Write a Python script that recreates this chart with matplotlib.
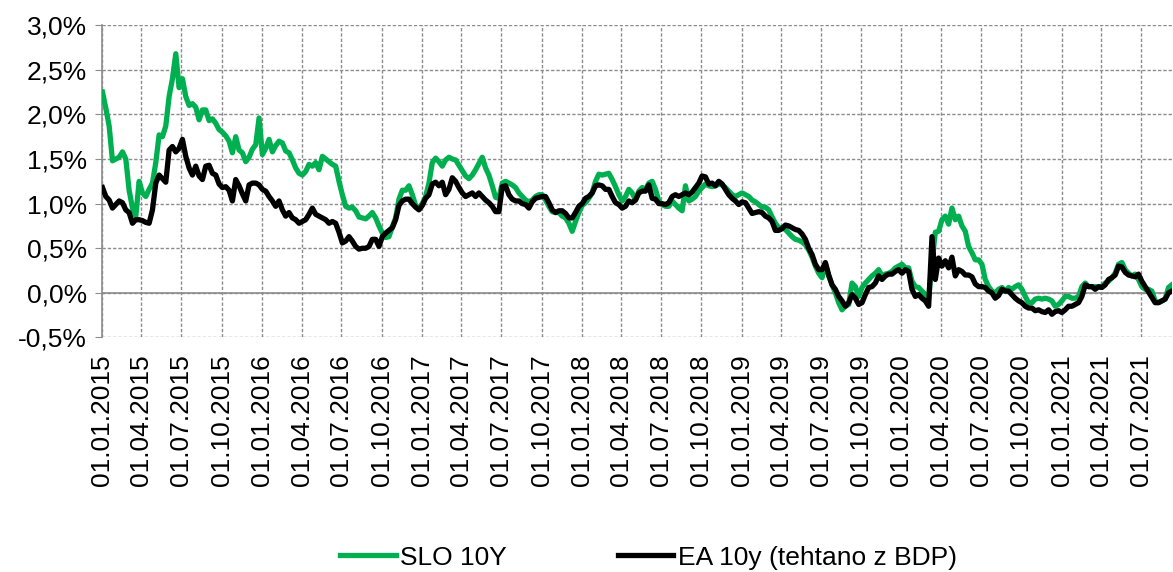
import numpy as np
import matplotlib
matplotlib.use("Agg")
import matplotlib.pyplot as plt
import matplotlib.dates as mdates
from matplotlib.ticker import FuncFormatter, MultipleLocator
import pandas as pd

# sampled roughly weekly from 02.01.2015 to 10.09.2021, values in %
start_date = "2015-01-02"
end_date = "2021-09-10"

slo_10y = [
    2.25, 2.07, 1.87, 1.48, 1.50, 1.52, 1.58, 1.50, 1.15, 0.95,
    0.86, 1.25, 1.12, 1.08, 1.16, 1.23, 1.46, 1.77, 1.75, 1.87,
    2.20, 2.40, 2.68, 2.30, 2.40, 2.20, 2.10, 2.12, 2.08, 1.94,
    2.05, 2.05, 1.93, 1.95, 1.90, 1.83, 1.80, 1.76, 1.70, 1.57,
    1.75, 1.60, 1.57, 1.47, 1.52, 1.61, 1.66, 1.96, 1.55, 1.62,
    1.72, 1.58, 1.65, 1.70, 1.68, 1.59, 1.57, 1.49, 1.40, 1.34,
    1.32, 1.36, 1.44, 1.42, 1.46, 1.38, 1.53, 1.50, 1.47, 1.44,
    1.42, 1.25, 1.10, 0.97,
    0.95, 0.96, 0.92, 0.85, 0.84, 0.83, 0.86, 0.90, 0.84, 0.75,
    0.67, 0.62, 0.63, 0.74, 0.84, 1.05, 1.15, 1.15, 1.20, 1.10,
    0.98, 0.95, 1.00, 1.08, 1.23, 1.46, 1.51, 1.47, 1.42, 1.49,
    1.52, 1.50, 1.49, 1.43, 1.37, 1.31, 1.28, 1.32, 1.38, 1.45,
    1.52, 1.40, 1.32, 1.20, 1.07, 1.06, 1.23, 1.25, 1.23, 1.21,
    1.18, 1.12, 1.08, 1.04, 1.02, 1.04, 1.08, 1.10, 1.10, 1.04,
    0.97, 0.91, 0.90, 0.90, 0.86, 0.84, 0.78, 0.69, 0.80, 0.90,
    0.98, 1.01, 1.06, 1.12, 1.25, 1.33, 1.32, 1.33,
    1.34, 1.27, 1.19, 1.10, 1.03, 1.08, 1.16, 1.12, 1.04, 1.14,
    1.18, 1.16, 1.23, 1.25, 1.16, 1.03, 0.99, 0.97, 0.97, 1.03,
    0.99, 0.95, 0.92, 1.20, 1.03, 1.05, 1.08, 1.14, 1.18, 1.22,
    1.20, 1.19, 1.20, 1.22, 1.21, 1.18, 1.14, 1.10, 1.08, 1.10,
    1.12, 1.10, 1.08, 1.04, 1.02, 0.99, 0.96, 0.96, 0.93, 0.85,
    0.78, 0.73, 0.73, 0.71, 0.67, 0.63, 0.60, 0.59, 0.57, 0.54,
    0.48, 0.40, 0.30, 0.22, 0.17, 0.33, 0.19, 0.09, 0.00, -0.11,
    -0.19, -0.15, -0.13, 0.11, 0.07, -0.04, 0.06, 0.11,
    0.15, 0.19, 0.22, 0.26, 0.19, 0.21, 0.22, 0.24, 0.28, 0.30,
    0.32, 0.28, 0.28, 0.13, 0.07, 0.06, 0.02, -0.02, -0.06, 0.34,
    0.68, 0.69, 0.82, 0.86, 0.77, 0.95, 0.82, 0.86, 0.75, 0.69,
    0.52, 0.45, 0.37, 0.37, 0.32, 0.15, 0.07, 0.02, 0.00, 0.04,
    0.06, 0.02, 0.06, 0.04, 0.07, 0.09, 0.04, -0.04, -0.11, -0.11,
    -0.07, -0.06, -0.07, -0.06, -0.07, -0.09, -0.15, -0.13, -0.09, -0.04,
    -0.04, -0.06, -0.06, -0.04, 0.07, 0.11, 0.07, 0.07, 0.07, 0.06,
    0.07, 0.11, 0.13, 0.17, 0.22, 0.32, 0.34, 0.26, 0.22, 0.19,
    0.21, 0.15, 0.07, 0.04, 0.04, 0.02, -0.09, -0.11, -0.09, -0.07,
    0.06, 0.09,
]

ea_10y = [
    1.18, 1.08, 1.04, 0.95, 0.99, 1.03, 1.01, 0.93, 0.90, 0.78,
    0.82, 0.82, 0.81, 0.79, 0.78, 0.93, 1.23, 1.32, 1.28, 1.24,
    1.60, 1.64, 1.58, 1.62, 1.72, 1.53, 1.40, 1.32, 1.42, 1.31,
    1.27, 1.42, 1.43, 1.34, 1.32, 1.22, 1.18, 1.19, 1.15, 1.03,
    1.27, 1.20, 1.11, 1.03, 1.21, 1.23, 1.23, 1.21, 1.16, 1.14,
    1.08, 1.03, 0.97, 1.03, 0.93, 0.86, 0.90, 0.84, 0.82, 0.78,
    0.80, 0.82, 0.88, 0.95, 0.88, 0.86, 0.84, 0.82, 0.78, 0.80,
    0.78, 0.68, 0.56, 0.58,
    0.63, 0.58, 0.52, 0.49, 0.50, 0.50, 0.52, 0.60, 0.60, 0.52,
    0.63, 0.67, 0.70, 0.73, 0.82, 0.98, 1.03, 1.05, 1.05, 1.00,
    0.96, 0.93, 0.98, 1.06, 1.10, 1.22, 1.24, 1.20, 1.24, 1.10,
    1.16, 1.29, 1.25, 1.18, 1.12, 1.08, 1.10, 1.12, 1.08, 1.12,
    1.08, 1.04, 1.01, 0.97, 0.91, 0.91, 1.19, 1.20, 1.10, 1.05,
    1.03, 1.03, 1.00, 0.99, 0.95, 1.02, 1.06, 1.07, 1.08, 1.08,
    1.01, 0.93, 0.90, 0.92, 0.92, 0.89, 0.84, 0.84, 0.90, 0.97,
    1.00, 1.06, 1.08, 1.12, 1.20, 1.21, 1.20, 1.16,
    1.16, 1.08, 1.01, 0.99, 0.95, 0.97, 1.03, 1.01, 1.04, 1.12,
    1.14, 1.14, 1.21, 1.06, 1.05, 1.00, 1.00, 0.99, 1.01, 1.08,
    1.10, 1.08, 1.10, 1.12, 1.10, 1.13, 1.18, 1.23, 1.31, 1.30,
    1.22, 1.23, 1.20, 1.25, 1.22, 1.16, 1.10, 1.06, 1.03, 0.99,
    1.02, 1.01, 0.95, 0.89, 0.90, 0.91, 0.90, 0.86, 0.84, 0.80,
    0.70, 0.70, 0.72, 0.76, 0.75, 0.73, 0.71, 0.70, 0.66, 0.60,
    0.50, 0.43, 0.32, 0.26, 0.26, 0.34, 0.20, 0.09, 0.04, -0.04,
    -0.09, -0.15, -0.11, -0.02, -0.06, -0.13, -0.11, -0.02,
    0.06, 0.07, 0.11, 0.19, 0.15, 0.19, 0.21, 0.21, 0.24, 0.26,
    0.22, 0.26, 0.24, 0.04, -0.04, -0.02, -0.06, -0.09, -0.15, 0.63,
    0.15, 0.39, 0.30, 0.36, 0.28, 0.40, 0.19, 0.26, 0.24, 0.20,
    0.20, 0.18, 0.10, 0.07, 0.07, 0.06, 0.02, 0.00, -0.06, -0.03,
    0.04, 0.02, 0.02, -0.02, -0.06, -0.09, -0.11, -0.15, -0.17, -0.17,
    -0.20, -0.19, -0.21, -0.22, -0.19, -0.24, -0.21, -0.20, -0.22, -0.19,
    -0.15, -0.15, -0.13, -0.11, -0.04, 0.09, 0.07, 0.07, 0.04, 0.07,
    0.06, 0.09, 0.15, 0.17, 0.20, 0.30, 0.29, 0.23, 0.20, 0.19,
    0.18, 0.21, 0.13, 0.07, 0.01, -0.05, -0.11, -0.11, -0.09, -0.07,
    0.00, 0.02,
]

labels = ["SLO 10Y", "EA 10y (tehtano z BDP)"]

dates = pd.date_range(start_date, end_date, periods=len(slo_10y))

plt.rcParams["font.family"] = ["Liberation Sans", "DejaVu Sans"]
plt.rcParams["font.size"] = 19

fig = plt.figure(figsize=(11.73, 5.72), dpi=100)
ax = fig.add_axes([0.087, 0.41, 0.912, 0.546])

grid_col = "#8c8c8c"
ax.plot(dates, slo_10y, color="#00b050", lw=3.8, label=labels[0], zorder=3)
ax.plot(dates, ea_10y, color="black", lw=3.8, label=labels[1], zorder=4)

ax.set_ylim(-0.5, 3.0)
ax.set_xlim(pd.Timestamp("2015-01-01"), pd.Timestamp(end_date))
ax.yaxis.set_major_locator(MultipleLocator(0.5))
ax.yaxis.set_major_formatter(FuncFormatter(lambda v, _: f"{v:.1f}%".replace(".", ",")))

ax.xaxis.set_major_locator(mdates.MonthLocator(bymonth=[1, 4, 7, 10]))
ax.xaxis.set_major_formatter(mdates.DateFormatter("%d.%m.%Y"))
plt.setp(ax.get_xticklabels(), rotation=90)

ax.grid(True, color=grid_col, lw=1.0, linestyle=(0, (2.4, 1.4)))
ax.axhline(0, color=grid_col, lw=1.2, zorder=2)

for s in ["top", "right", "bottom"]:
    ax.spines[s].set_visible(False)
ax.spines["left"].set_color(grid_col)
ax.spines["left"].set_linewidth(1.2)
ax.tick_params(axis="y", length=5, color=grid_col, pad=6)
ax.tick_params(axis="x", length=0, pad=12)

fig.legend(loc="center", bbox_to_anchor=(0.553, 0.025), ncol=2, frameon=False,
           handlelength=2.1, handletextpad=0.18, columnspacing=4.2)

fig.savefig("out.png", dpi=100)
